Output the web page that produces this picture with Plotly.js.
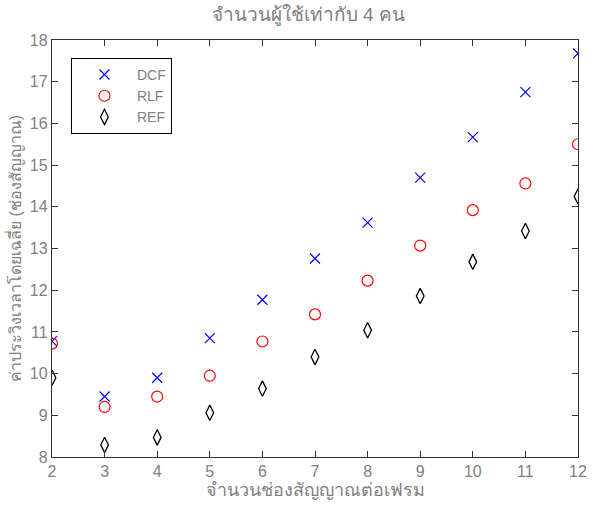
<!DOCTYPE html>
<html>
<head>
<meta charset="utf-8">
<script src="https://cdn.plot.ly/plotly-3.0.1.min.js"></script>
<style>html,body{margin:0;padding:0;background:#fff;}#chart{width:593px;height:512px;}</style>
</head>
<body>
<div id="chart"></div>
<script>
const channels = [2, 3, 4, 5, 6, 7, 8, 9, 10, 11, 12];
const dcf = [10.78, 9.45, 9.9, 10.85, 11.77, 12.76, 13.62, 14.7, 15.67, 16.75, 17.68];
const rlf = [10.72, 9.2, 9.45, 9.95, 10.77, 11.42, 12.23, 13.07, 13.92, 14.56, 15.5];
const ref = [9.9, 8.29, 8.47, 9.06, 9.64, 10.4, 11.04, 11.86, 12.68, 13.42, 14.25];
const seriesNames = ["DCF", "RLF", "REF"];
const titleText = "จำนวนผู้ใช้เท่ากับ 4 คน";
const xTitle = "จำนวนช่องสัญญาณต่อเฟรม";
const yTitle = "ค่าประวิงเวลาโดยเฉลี่ย (ช่องสัญญาณ)";

const grey = "#808080";
const fnt = "Liberation Sans, DejaVu Sans, sans-serif";

const traces = [
  {x: channels, y: dcf, name: seriesNames[0], mode: "markers", type: "scatter",
   marker: {symbol: "x-thin-open", size: 10, color: "#0000ff", line: {width: 1.2, color: "#0000ff"}}},
  {x: channels, y: rlf, name: seriesNames[1], mode: "markers", type: "scatter",
   marker: {symbol: "circle-open", size: 11, color: "#ff0000", line: {width: 1.2, color: "#ff0000"}}},
  {x: channels, y: ref, name: seriesNames[2], mode: "markers", type: "scatter",
   marker: {symbol: "diamond-tall-open", size: 11, color: "#000000", line: {width: 1.3, color: "#000000"}}}
];

const axisCommon = {
  showgrid: false, zeroline: false, showline: true, mirror: "ticks",
  linecolor: "#333", linewidth: 1.2, ticks: "inside", ticklen: 6, tickcolor: "#333",
  tickfont: {family: fnt, size: 16, color: grey}
};

const layout = {
  width: 593, height: 512,
  margin: {l: 52, r: 15, t: 40, b: 55},
  paper_bgcolor: "#fff", plot_bgcolor: "#fff",
  showlegend: true,
  title: {text: titleText, font: {family: fnt, size: 19, color: grey}, x: 0.52, xanchor: "center", y: 0.985, yanchor: "top"},
  xaxis: Object.assign({}, axisCommon, {range: [2, 12], dtick: 1, tick0: 2,
    title: {text: xTitle, font: {family: fnt, size: 18, color: grey}, standoff: 4}}),
  yaxis: Object.assign({}, axisCommon, {range: [8, 18], dtick: 1, tick0: 8,
    title: {text: yTitle, font: {family: fnt, size: 16, color: grey}, standoff: 4}}),
  legend: {x: 0.036, y: 0.957, xanchor: "left", yanchor: "top",
    bgcolor: "#fff", bordercolor: "#000", borderwidth: 1,
    font: {family: fnt, size: 14, color: grey}, itemwidth: 55, tracegroupgap: 0}
};

Plotly.newPlot("chart", traces, layout, {displayModeBar: false, staticPlot: true});
</script>
</body>
</html>
